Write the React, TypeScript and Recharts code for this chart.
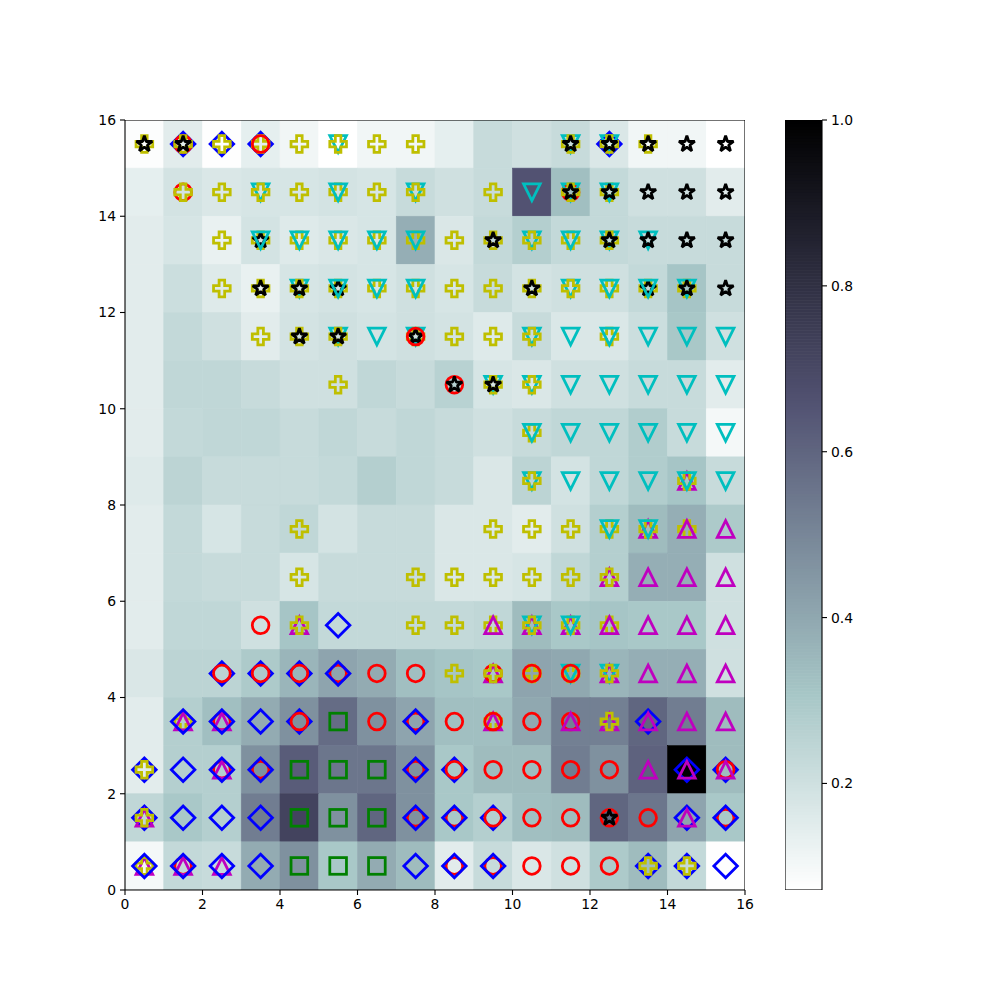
import React from "react";
import { ComposedChart, Scatter, XAxis, YAxis } from "recharts";

const GRID = 16;
const VMIN = 0.0715;
const VMAX = 1.0;

// distance map, top row (y = 15) first
const distRows = [
  [0.08, 0.15, 0.075, 0.14, 0.11, 0.072, 0.11, 0.11, 0.14, 0.22, 0.2, 0.22, 0.17, 0.11, 0.11, 0.072],
  [0.14, 0.19, 0.17, 0.18, 0.18, 0.19, 0.18, 0.22, 0.2, 0.22, 0.66, 0.33, 0.23, 0.2, 0.2, 0.15],
  [0.15, 0.18, 0.13, 0.19, 0.16, 0.17, 0.18, 0.38, 0.17, 0.23, 0.27, 0.23, 0.23, 0.22, 0.22, 0.22],
  [0.15, 0.21, 0.16, 0.13, 0.18, 0.19, 0.18, 0.2, 0.18, 0.22, 0.19, 0.2, 0.2, 0.23, 0.31, 0.22],
  [0.15, 0.23, 0.2, 0.15, 0.19, 0.2, 0.19, 0.2, 0.19, 0.16, 0.22, 0.17, 0.17, 0.21, 0.3, 0.2],
  [0.15, 0.24, 0.24, 0.22, 0.2, 0.2, 0.24, 0.22, 0.26, 0.18, 0.17, 0.2, 0.2, 0.22, 0.22, 0.15],
  [0.15, 0.23, 0.24, 0.24, 0.22, 0.24, 0.22, 0.24, 0.22, 0.2, 0.22, 0.24, 0.24, 0.28, 0.22, 0.1],
  [0.16, 0.25, 0.22, 0.22, 0.22, 0.23, 0.27, 0.24, 0.22, 0.17, 0.25, 0.19, 0.24, 0.28, 0.31, 0.22],
  [0.15, 0.23, 0.18, 0.22, 0.24, 0.19, 0.22, 0.22, 0.17, 0.17, 0.15, 0.2, 0.27, 0.34, 0.38, 0.29],
  [0.15, 0.23, 0.22, 0.22, 0.18, 0.22, 0.22, 0.22, 0.17, 0.17, 0.18, 0.24, 0.27, 0.38, 0.38, 0.2],
  [0.15, 0.24, 0.24, 0.2, 0.31, 0.23, 0.23, 0.23, 0.23, 0.24, 0.34, 0.3, 0.31, 0.3, 0.3, 0.2],
  [0.17, 0.25, 0.25, 0.29, 0.36, 0.41, 0.39, 0.33, 0.31, 0.3, 0.41, 0.4, 0.36, 0.38, 0.38, 0.2],
  [0.15, 0.27, 0.33, 0.39, 0.47, 0.58, 0.47, 0.41, 0.33, 0.33, 0.4, 0.52, 0.52, 0.6, 0.53, 0.34],
  [0.15, 0.27, 0.27, 0.47, 0.63, 0.55, 0.55, 0.47, 0.3, 0.34, 0.34, 0.53, 0.47, 0.61, 1.0, 0.34],
  [0.24, 0.3, 0.27, 0.53, 0.72, 0.47, 0.6, 0.47, 0.3, 0.27, 0.33, 0.34, 0.6, 0.55, 0.41, 0.3],
  [0.1, 0.23, 0.22, 0.39, 0.47, 0.3, 0.39, 0.34, 0.15, 0.22, 0.17, 0.2, 0.29, 0.34, 0.23, 0.075],
];

// winners per cell, in draw order. o=red circle s=green square D=blue diamond
// v=cyan triangle down ^=magenta triangle up P=yellow plus k=black star
const markerRows = [
  ["Pk", "DoPk", "DP", "DPo", "P", "vP", "P", "P", "", "", "", "vPk", "DvPk", "Pk", "k", "k"],
  ["", "oP", "P", "vP", "P", "Pv", "P", "vP", "", "P", "v", "ovPk", "Pvk", "k", "k", "k"],
  ["", "", "P", "Pkv", "Pv", "Pv", "Pv", "Pv", "P", "Pk", "vP", "Pv", "vPk", "vk", "k", "k"],
  ["", "", "P", "Pk", "vPk", "Pkv", "Pv", "Pv", "P", "P", "Pk", "vP", "Pv", "Pkv", "Pvk", "k"],
  ["", "", "", "P", "Pk", "vPk", "v", "Pvko", "P", "P", "vP", "v", "Pv", "v", "v", "v"],
  ["", "", "", "", "", "P", "", "", "ok", "vPk", "vP", "v", "v", "v", "v", "v"],
  ["", "", "", "", "", "", "", "", "", "", "Pv", "v", "v", "v", "v", "v"],
  ["", "", "", "", "", "", "", "", "", "", "vP", "v", "v", "v", "^Pv", "v"],
  ["", "", "", "", "P", "", "", "", "", "P", "P", "P", "Pv", "^Pv", "P^", "^"],
  ["", "", "", "", "P", "", "", "P", "P", "P", "P", "P", "^P", "^", "^", "^"],
  ["", "", "", "o", "^P", "D", "", "P", "P", "P^", "^vP", "^Pv", "P^", "^", "^", "^"],
  ["", "", "Do", "Do", "Do", "oD", "o", "o", "P", "^oP", "Po", "Pvo", "^vP", "^", "^", "^"],
  ["", "P^D", "o^D", "D", "Do", "s", "o", "oD", "o", "P^o", "o", "o^", "^P", "D^", "^", "^"],
  ["DP", "D", "o^D", "oD", "s", "s", "s", "oD", "Do", "o", "o", "o", "o", "^", "D^", "Do^"],
  ["D^P", "D", "D", "D", "s", "s", "s", "oD", "oD", "Do", "o", "o", "ok", "o", "D^", "oD"],
  ["^PD", "o^D", "^D", "D", "s", "s", "s", "D", "oD", "oD", "o", "o", "o", "DP", "DP", "D"],
];

const axisTicks = [0, 2, 4, 6, 8, 10, 12, 14, 16];
const barTicks = [0.2, 0.4, 0.6, 0.8, 1.0];

const markerColors: Record<string, string> = {
  o: "#ff0000", s: "#008000", D: "#0000ff", v: "#00bfbf", "^": "#bf00bf", P: "#bfbf00", k: "#000000",
};

// layout (page pixels)
const PLOT_LEFT = 125;
const PLOT_TOP = 120;
const PLOT_W = 620;
const PLOT_H = 770;
const CELL_W = PLOT_W / GRID;
const CELL_H = PLOT_H / GRID;
const CBAR_LEFT = 785;
const CBAR_W = 37;
const CBAR_LEVELS = 256;
const MS = (12 * 100) / 72;
const MEW = (2 * 100) / 72;
const FONT = { fill: "#000", fontSize: 13.9, fontFamily: "DejaVu Sans" };
const SPINE = { stroke: "#000", strokeWidth: 1.1 };

// matplotlib bone_r
function boneR(v: number) {
  const t = Math.min(1, Math.max(0, (v - VMIN) / (VMAX - VMIN)));
  const s = 1 - t;
  const r = s < 0.746032 ? (0.652778 * s) / 0.746032 : 0.652778 + ((s - 0.746032) / 0.253968) * 0.347222;
  const g =
    s < 0.365079
      ? (0.319444 * s) / 0.365079
      : s < 0.746032
      ? 0.319444 + ((s - 0.365079) / 0.380953) * 0.458334
      : 0.777778 + ((s - 0.746032) / 0.253968) * 0.222222;
  const b = s < 0.365079 ? (0.444444 * s) / 0.365079 : 0.444444 + ((s - 0.365079) / 0.634921) * 0.555556;
  const h = (x: number) => Math.round(x * 255).toString(16).padStart(2, "0");
  return "#" + h(r) + h(g) + h(b);
}

const cells = distRows.flatMap((row, r) =>
  row.map((v, c) => ({ x: c + 0.5, y: GRID - 1 - r + 0.5, v }))
);

const marks: { x: number; y: number; k: string }[] = [];
markerRows.forEach((row, r) =>
  row.forEach((codes, c) =>
    codes.split("").forEach((k) => marks.push({ x: c + 0.5, y: GRID - 1 - r + 0.5, k }))
  )
);

const levels = Array.from({ length: CBAR_LEVELS }, (_, i) => {
  const v = VMIN + ((i + 0.5) * (VMAX - VMIN)) / CBAR_LEVELS;
  return { x: 0.5, y: v, v };
});

// frame anchors: centre of each plot area
const mainCentre = [{ x: GRID / 2, y: GRID / 2 }];
const barCentre = [{ x: 0.5, y: (VMIN + VMAX) / 2 }];

function CellShape(props: any) {
  const { cx, cy, payload } = props;
  const col = boneR(payload.v);
  return (
    <rect x={cx - CELL_W / 2} y={cy - CELL_H / 2} width={CELL_W} height={CELL_H}
      fill={col} stroke={col} strokeWidth={0.6} />
  );
}

function LevelShape(props: any) {
  const { cx, cy, payload } = props;
  const hh = PLOT_H / CBAR_LEVELS;
  return (
    <rect x={cx - CBAR_W / 2} y={cy - hh / 2 - 0.3} width={CBAR_W} height={hh + 0.6}
      fill={boneR(payload.v)} />
  );
}

const frameShape = (w: number, h: number) => (props: any) => (
  <rect x={props.cx - w / 2} y={props.cy - h / 2} width={w} height={h} fill="none" {...SPINE} />
);

function MarkShape(props: any) {
  const { cx, cy, payload } = props;
  const k = payload.k;
  const c = markerColors[k];
  const h = MS / 2;
  const common = { fill: "none", stroke: c, strokeWidth: MEW, strokeLinejoin: "miter" as const };
  if (k === "o") return <circle cx={cx} cy={cy} r={h} {...common} />;
  if (k === "s") return <rect x={cx - h} y={cy - h} width={MS} height={MS} {...common} />;
  if (k === "D") {
    const d = MS * Math.SQRT1_2;
    return <polygon points={`${cx},${cy - d} ${cx + d},${cy} ${cx},${cy + d} ${cx - d},${cy}`} {...common} />;
  }
  if (k === "v")
    return <polygon points={`${cx - h},${cy - h} ${cx + h},${cy - h} ${cx},${cy + h}`} {...common} />;
  if (k === "^")
    return <polygon points={`${cx - h},${cy + h} ${cx + h},${cy + h} ${cx},${cy - h}`} {...common} />;
  if (k === "P") {
    const u = MS / 6;
    const pts = [[-1, -3], [1, -3], [1, -1], [3, -1], [3, 1], [1, 1], [1, 3], [-1, 3], [-1, 1], [-3, 1], [-3, -1], [-1, -1]]
      .map(([a, b]) => `${cx + a * u},${cy + b * u}`).join(" ");
    return <polygon points={pts} {...common} />;
  }
  // star, bevel joins like matplotlib
  const pts: string[] = [];
  for (let i = 0; i < 10; i++) {
    const rad = i % 2 === 0 ? h : h * 0.381966;
    const ang = (Math.PI / 5) * i - Math.PI / 2;
    pts.push(`${cx + rad * Math.cos(ang)},${cy + rad * Math.sin(ang)}`);
  }
  return <polygon points={pts.join(" ")} fill="none" stroke={c} strokeWidth={MEW} strokeLinejoin="bevel" />;
}

export default function App() {
  const YW = 50;
  return (
    <div style={{ position: "absolute", left: 0, top: 0, width: 1000, height: 960, background: "#fff" }}>
      <div style={{ position: "absolute", left: 0, top: 0 }}>
        <ComposedChart width={760} height={940}
          margin={{ top: PLOT_TOP, left: PLOT_LEFT - YW, right: 760 - PLOT_LEFT - PLOT_W, bottom: 940 - PLOT_TOP - PLOT_H - 30 }}>
          <XAxis dataKey="x" type="number" domain={[0, 16]} ticks={axisTicks} height={30}
            tick={FONT} tickSize={5} tickMargin={4} stroke="#000" tickLine={SPINE}
            axisLine={SPINE} allowDataOverflow />
          <YAxis dataKey="y" type="number" domain={[0, 16]} ticks={axisTicks} width={YW}
            tick={FONT} tickSize={5} tickMargin={4} stroke="#000" tickLine={SPINE}
            axisLine={SPINE} allowDataOverflow />
          <Scatter data={cells} shape={CellShape} isAnimationActive={false} />
          <Scatter data={marks} shape={MarkShape} isAnimationActive={false} />
          <Scatter data={mainCentre} shape={frameShape(PLOT_W, PLOT_H)} isAnimationActive={false} />
        </ComposedChart>
      </div>
      <div style={{ position: "absolute", left: CBAR_LEFT, top: 0 }}>
        <ComposedChart width={100} height={940}
          margin={{ top: PLOT_TOP, left: 0, right: 100 - CBAR_W - YW, bottom: 940 - PLOT_TOP - PLOT_H }}>
          <XAxis dataKey="x" type="number" domain={[0, 1]} hide />
          <YAxis dataKey="y" type="number" orientation="right" domain={[VMIN, VMAX]} ticks={barTicks} width={YW}
            tickFormatter={(v: number) => v.toFixed(1)} tick={FONT} tickSize={5} tickMargin={4}
            tickLine={SPINE} axisLine={false} allowDataOverflow />
          <Scatter data={levels} shape={LevelShape} isAnimationActive={false} />
          <Scatter data={barCentre} shape={frameShape(CBAR_W, PLOT_H)} isAnimationActive={false} />
        </ComposedChart>
      </div>
    </div>
  );
}
